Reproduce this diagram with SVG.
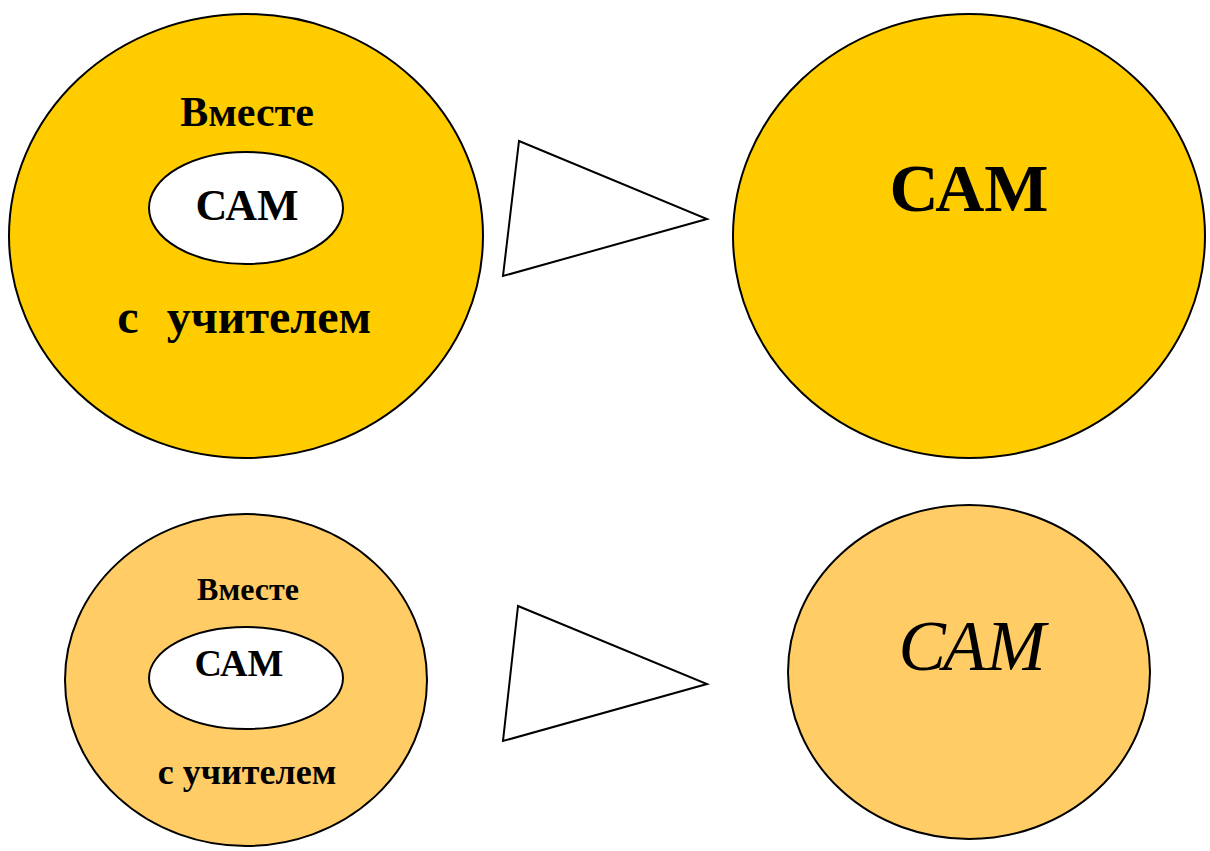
<svg xmlns="http://www.w3.org/2000/svg" width="1210" height="851" viewBox="0 0 1210 851">
<style>
  .outline { stroke: #000; stroke-width: 2; }
  .gold { fill: #FFCC00; }
  .pale { fill: #FFCC66; }
  .white { fill: #FFFFFF; }
  .bold { font-family: "Liberation Serif", "Times New Roman", serif; font-weight: bold; fill: #000; text-anchor: middle; }
  .ital { font-family: "Liberation Serif", "Times New Roman", serif; font-style: italic; fill: #000; text-anchor: middle; }
</style>
<rect width="1210" height="851" fill="#FFFFFF"/>
<g id="node-top-left">
  <ellipse class="gold outline" cx="246" cy="236" rx="237" ry="222"/>
  <text class="bold" x="247" y="126" font-size="42">Вместе</text>
  <ellipse class="white outline" cx="246" cy="208" rx="97" ry="56"/>
  <text class="bold" x="247" y="220" font-size="44">САМ</text>
  <text class="bold" x="128" y="333" font-size="48">с</text>
  <text class="bold" x="269" y="333" font-size="48">учителем</text>
</g>
<g id="node-top-right">
  <ellipse class="gold outline" cx="969" cy="236" rx="236" ry="222"/>
  <text class="bold" x="969" y="211" font-size="68">САМ</text>
</g>
<g id="node-bottom-left">
  <ellipse class="pale outline" cx="246" cy="680" rx="181" ry="166"/>
  <text class="bold" x="248" y="600" font-size="32">Вместе</text>
  <ellipse class="white outline" cx="246" cy="678" rx="97" ry="51"/>
  <text class="bold" x="239" y="676" font-size="38">САМ</text>
  <text class="bold" x="247" y="784" font-size="36">с учителем</text>
</g>
<g id="node-bottom-right">
  <ellipse class="pale outline" cx="969" cy="672" rx="181" ry="167"/>
  <text class="ital" x="972" y="670" font-size="71">САМ</text>
</g>
<g id="connectors">
  <polygon class="white outline" points="519,141 503,276 707,219"/>
  <polygon class="white outline" points="518,606 503,741 707,684"/>
</g>
</svg>
